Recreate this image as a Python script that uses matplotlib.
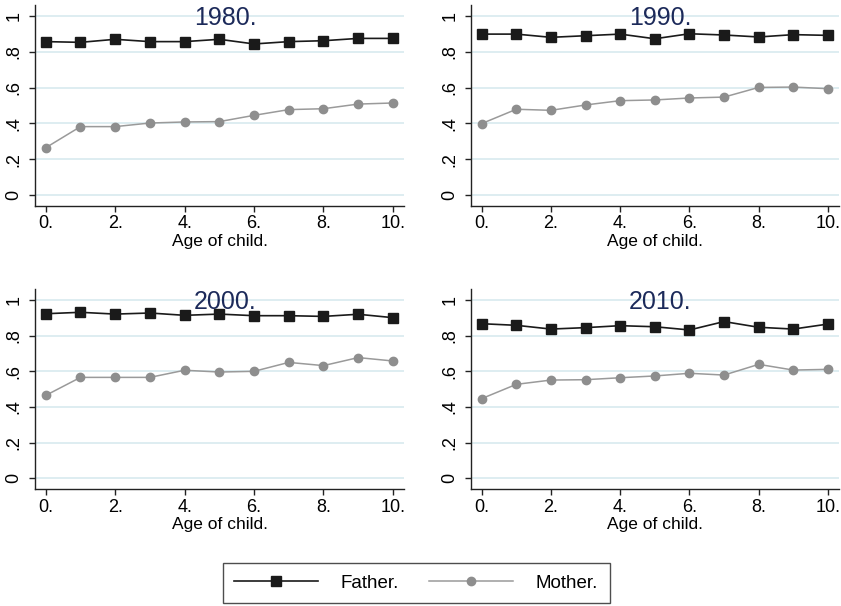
import matplotlib
matplotlib.use("Agg")
import matplotlib.pyplot as plt
from matplotlib.lines import Line2D

plt.rcParams['font.family'] = ['Liberation Sans', 'DejaVu Sans']

ages = [0, 1, 2, 3, 4, 5, 6, 7, 8, 9, 10]
years = ["1980", "1990", "2000", "2010"]

father_1980 = [0.857, 0.853, 0.870, 0.857, 0.857, 0.870, 0.844, 0.857, 0.862, 0.875, 0.875]
mother_1980 = [0.264, 0.382, 0.382, 0.402, 0.408, 0.410, 0.445, 0.477, 0.482, 0.508, 0.514]

father_1990 = [0.899, 0.899, 0.881, 0.890, 0.899, 0.873, 0.901, 0.894, 0.883, 0.896, 0.892]
mother_1990 = [0.399, 0.479, 0.473, 0.503, 0.527, 0.531, 0.542, 0.547, 0.601, 0.603, 0.594]

father_2000 = [0.923, 0.931, 0.921, 0.927, 0.914, 0.921, 0.912, 0.912, 0.908, 0.920, 0.901]
mother_2000 = [0.465, 0.566, 0.566, 0.566, 0.606, 0.596, 0.600, 0.650, 0.632, 0.677, 0.658]

father_2010 = [0.867, 0.858, 0.837, 0.845, 0.856, 0.850, 0.832, 0.879, 0.847, 0.837, 0.865]
mother_2010 = [0.447, 0.527, 0.551, 0.553, 0.564, 0.574, 0.589, 0.579, 0.639, 0.607, 0.611]

father = [father_1980, father_1990, father_2000, father_2010]
mother = [mother_1980, mother_1990, mother_2000, mother_2010]

x_ticks = [0, 2, 4, 6, 8, 10]
x_tick_labels = ["0.", "2.", "4.", "6.", "8.", "10."]
y_ticks = [0, 0.2, 0.4, 0.6, 0.8, 1.0]
y_tick_labels = ["0", ".2", ".4", ".6", ".8", "1"]

W, H = 841, 606
fig = plt.figure(figsize=(W / 100, H / 100), dpi=100)
fig.patch.set_facecolor("white")

# panel boxes in pixels: left, top, right, bottom
boxes = [
    (35, 5.3, 404, 205.7),
    (471, 5.3, 839, 205.7),
    (35, 289.3, 404, 489.0),
    (471, 289.3, 839, 489.0),
]

FATHER_C = "#1a1a1a"
MOTHER_C = "#8e8e8e"
GRID_C = "#d5e8ee"
TITLE_C = "#1c2a5a"

for i, (l, t, r, b) in enumerate(boxes):
    ax = fig.add_axes([l / W, 1 - b / H, (r - l) / W, (b - t) / H])
    ax.set_xlim(-0.31, 10.32)
    ax.set_ylim(-0.06, 1.06)
    for s in ("top", "right"):
        ax.spines[s].set_visible(False)
    for s in ("left", "bottom"):
        ax.spines[s].set_linewidth(1.0)
        ax.spines[s].set_color("#222222")
    ax.set_yticks(y_ticks)
    ax.set_yticklabels(y_tick_labels, rotation=90, va="center", fontsize=13)
    ax.set_xticks(x_ticks)
    ax.set_xticklabels(x_tick_labels, fontsize=13)
    for lab in ax.get_xticklabels():
        lab.set_x(lab.get_position()[0])
    ax.tick_params(axis="both", direction="out", length=4, width=1, color="#222222", pad=3)
    ax.tick_params(axis="y", pad=5)
    ax.grid(axis="y", color=GRID_C, linewidth=1.1)
    ax.set_axisbelow(True)
    ax.set_xlabel("Age of child.", fontsize=12.5, labelpad=1)

    ax.plot(ages, mother[i], color="#9a9a9a", linewidth=1.1, marker="o",
            markersize=6, markerfacecolor=MOTHER_C, markeredgecolor=MOTHER_C,
            zorder=3)
    ax.plot(ages, father[i], color=FATHER_C, linewidth=1.2, marker="s",
            markersize=7, markerfacecolor=FATHER_C, markeredgecolor=FATHER_C,
            zorder=4)
    ax.text(0.515, 0.935, years[i] + ".", transform=ax.transAxes, ha="center",
            va="center", fontsize=18, color=TITLE_C, zorder=5)

handles = [
    Line2D([], [], color=FATHER_C, linewidth=1.2, marker="s", markersize=7,
           markerfacecolor=FATHER_C, markeredgecolor=FATHER_C),
    Line2D([], [], color="#9a9a9a", linewidth=1.1, marker="o", markersize=6,
           markerfacecolor=MOTHER_C, markeredgecolor=MOTHER_C),
]
leg = fig.legend(handles, ["Father.", "Mother."], loc="center",
                 bbox_to_anchor=(416 / W, 1 - 583 / H), ncol=2, fontsize=13.5,
                 frameon=True, fancybox=False, edgecolor="#222222",
                 handlelength=4.5, columnspacing=1.6, handletextpad=1.2,
                 borderpad=0.6, borderaxespad=0)
leg.get_frame().set_linewidth(1.0)

fig.savefig("out.png", dpi=100, facecolor="white")
